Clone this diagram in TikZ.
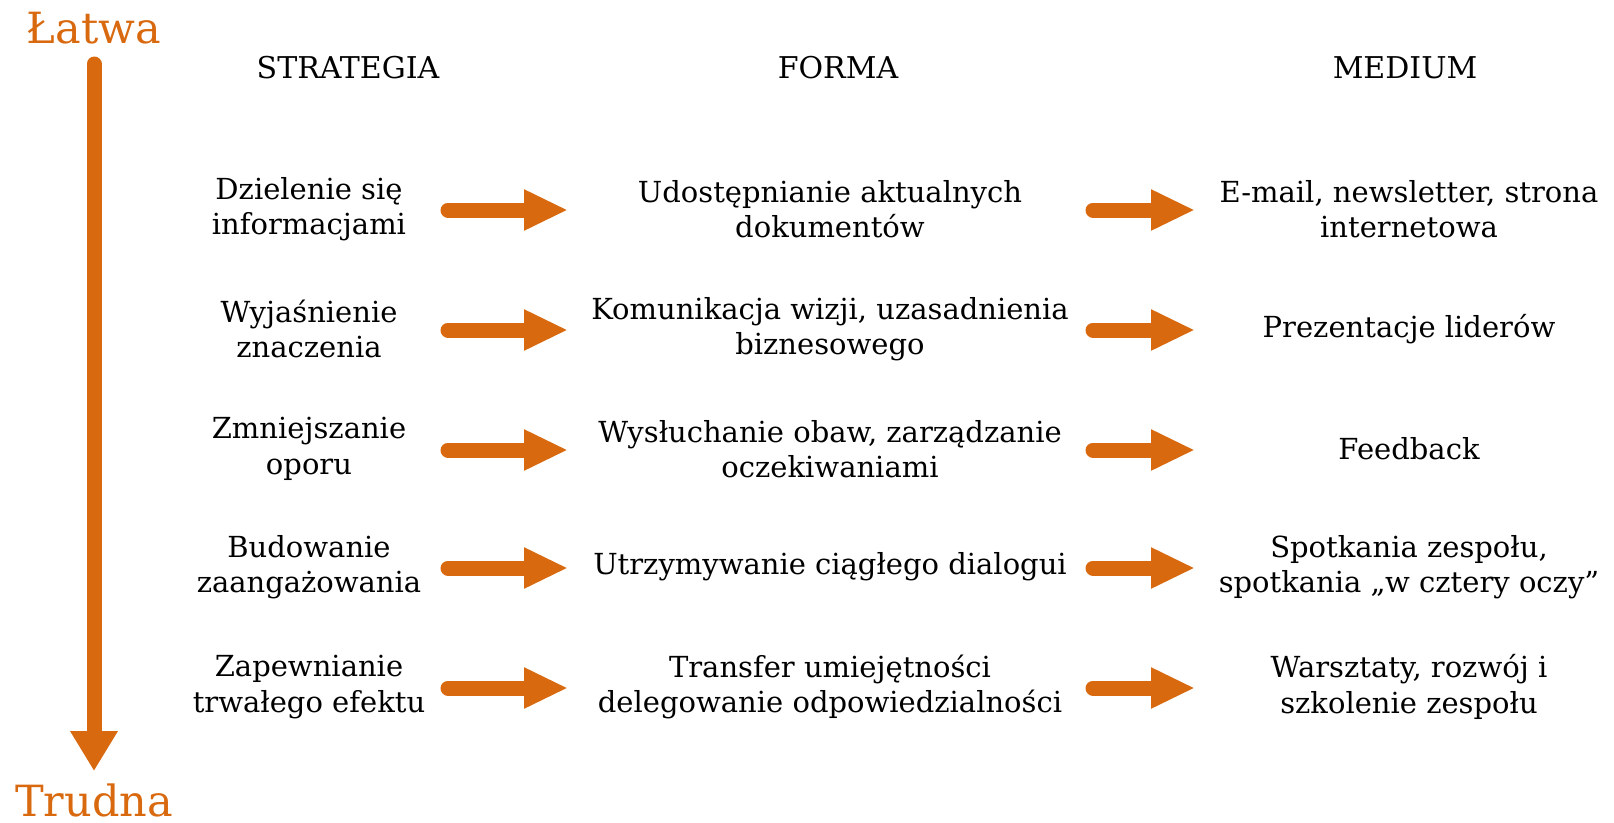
\documentclass[tikz,border=0pt]{standalone}
\usepackage{fontspec}
\setmainfont{DejaVu Serif}
\usetikzlibrary{arrows.meta}
\definecolor{orng}{RGB}{217,105,14}
\begin{document}
\begin{tikzpicture}[x=1pt,y=-1pt,
  txt/.style={align=center,inner sep=0pt,font=\fontsize{29}{35.5}\selectfont,text=black},
  hdr/.style={inner sep=0pt,font=\fontsize{30}{35}\selectfont,text=black},
  lbl/.style={inner sep=0pt,font=\fontsize{43}{45}\selectfont,text=orng},
  harrow/.style={draw=orng,line width=15pt,line cap=round,-{Triangle[width=38pt,length=44pt]}},
  varrow/.style={draw=orng,line width=15pt,line cap=round,-{Triangle[width=45pt,length=40pt]}}]
\useasboundingbox (0,0) rectangle (1614,822);
\node[lbl] (latwa) at (94,28) {Łatwa};
\node[lbl] (trudna) at (94,800) {Trudna};
\coordinate (vtop) at (94,64);
\coordinate (vbot) at (94,771);
\draw[varrow] (vtop) -- (vbot);
\node[hdr] (h1) at (348,68) {STRATEGIA};
\node[hdr] (h2) at (838,68) {FORMA};
\node[hdr] (h3) at (1405,68) {MEDIUM};
% rows
\foreach \y/\a/\b/\c [count=\i] in {
 209/{Dzielenie się\\informacjami}/{Udostępnianie aktualnych\\dokumentów}/{E-mail, newsletter, strona\\internetowa},
 329/{Wyjaśnienie\\znaczenia}/{Komunikacja wizji, uzasadnienia\\biznesowego}/{Prezentacje liderów},
 449/{Zmniejszanie\\oporu}/{Wysłuchanie obaw, zarządzanie\\oczekiwaniami}/{Feedback},
 567/{Budowanie\\zaangażowania}/{Utrzymywanie ciągłego dialogui}/{Spotkania zespołu,\\spotkania „w cztery oczy”},
 687/{Zapewnianie\\trwałego efektu}/{Transfer umiejętności\\delegowanie odpowiedzialności}/{Warsztaty, rozwój i\\szkolenie zespołu}} {
  \node[txt] (s\i) at (309,\y) {\a};
  \node[txt] (f\i) at (830,\y) {\b};
  \node[txt] (m\i) at (1409,\y) {\c};
  \coordinate (a\i) at (448,\y+1);
  \coordinate (b\i) at (568,\y+1);
  \coordinate (c\i) at (1093,\y+1);
  \coordinate (d\i) at (1195,\y+1);
  \draw[harrow] (a\i) -- (b\i);
  \draw[harrow] (c\i) -- (d\i);
}
\end{tikzpicture}
\end{document}
